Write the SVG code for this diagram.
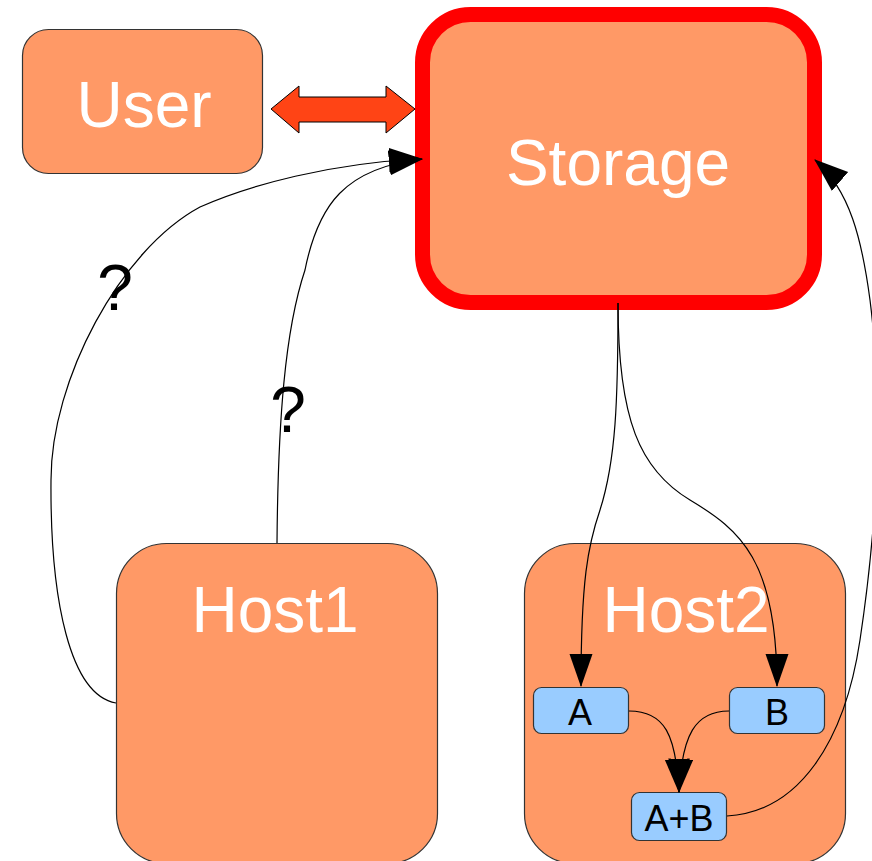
<svg xmlns="http://www.w3.org/2000/svg" width="872" height="861" viewBox="0 0 872 861">
  <style>
    .node { fill: #ff9966; stroke: #333333; stroke-width: 1.2; }
    .store { fill: #ff9966; stroke: #ff0000; stroke-width: 15; }
    .item { fill: #99ccff; stroke: #333333; stroke-width: 1.2; }
    .big { font-family: "Liberation Sans", Arial, sans-serif; font-size: 64px; fill: #ffffff; text-anchor: middle; }
    .small { font-family: "Liberation Sans", Arial, sans-serif; font-size: 36px; fill: #000000; text-anchor: middle; }
    .mark { font-family: "Liberation Sans", Arial, sans-serif; font-size: 64px; fill: #000000; text-anchor: middle; }
    .edge { fill: none; stroke: #000000; stroke-width: 1.2; }
  </style>
  <defs>
    <marker id="head" markerUnits="userSpaceOnUse" markerWidth="34" markerHeight="26" refX="33" refY="12.5" orient="auto">
      <path d="M0,0 L34,12.5 L0,25 z" fill="#000000"/>
    </marker>
    <marker id="headS" markerUnits="userSpaceOnUse" markerWidth="33" markerHeight="24" refX="32" refY="11.5" orient="auto">
      <path d="M0,0 L33,11.5 L0,23 z" fill="#000000"/>
    </marker>
  </defs>

  <g id="user">
    <rect class="node" x="22.5" y="29.5" width="240" height="144" rx="26" ry="26"/>
    <text class="big" x="144" y="127">User</text>
  </g>

  <g id="storage">
    <rect class="store" x="422.5" y="14.5" width="392" height="288" rx="48" ry="48"/>
    <text class="big" x="618" y="185">Storage</text>
  </g>

  <g id="host1">
    <rect class="node" x="116.5" y="543.5" width="321" height="320" rx="50" ry="50"/>
    <text class="big" x="275" y="632">Host1</text>
  </g>

  <g id="host2">
    <rect class="node" x="524.5" y="543.5" width="321" height="320" rx="50" ry="50"/>
    <text class="big" x="686" y="632">Host2</text>
  </g>

  <g id="block-a">
    <rect class="item" x="533.5" y="687.5" width="95" height="46" rx="8" ry="8"/>
    <text class="small" x="580" y="725">A</text>
  </g>

  <g id="block-b">
    <rect class="item" x="729.5" y="687.5" width="95" height="46" rx="8" ry="8"/>
    <text class="small" x="777" y="725">B</text>
  </g>

  <g id="block-ab">
    <rect class="item" x="631.5" y="792.5" width="95" height="48" rx="8" ry="8"/>
    <text class="small" x="679" y="831">A+B</text>
  </g>

  <g id="connectors">
    <!-- two-way link between User and Storage -->
    <polygon points="271,109 299,86 299,97 386,97 386,86 415,109 386,133 386,122 299,122 299,133" fill="#ff4415" stroke="#000000" stroke-width="1"/>

    <!-- Host1 to Storage, two possible routes -->
    <path class="edge" d="M116,703 C70,695 50,600 51,480 C51,380 120,250 200,207 C250,185 330,163 422,159" marker-end="url(#head)"/>
    <path class="edge" d="M277,543 C278,420 285,330 305,270 C318,205 345,168 422,159" marker-end="url(#head)"/>
    <text class="mark" x="115" y="310">?</text>
    <text class="mark" x="288" y="432">?</text>

    <!-- Storage feeds A and B on Host2 -->
    <path class="edge" d="M618,303 C618,400 616,460 600,510 C588,545 581,580 581,686" marker-end="url(#headS)"/>
    <path class="edge" d="M618,303 C618,420 640,470 690,500 C740,530 777,560 777,686" marker-end="url(#headS)"/>

    <!-- A and B combine into A+B -->
    <path class="edge" d="M629,711 C665,711 676,735 679,792" marker-end="url(#head)"/>
    <path class="edge" d="M729,711 C695,711 682,735 679,792" marker-end="url(#head)"/>

    <!-- A+B written back to Storage -->
    <path class="edge" d="M727,816 C800,812 845,740 860,640 C875,540 885,420 870,300 C862,240 850,190 815,160" marker-end="url(#head)"/>
  </g>
</svg>
